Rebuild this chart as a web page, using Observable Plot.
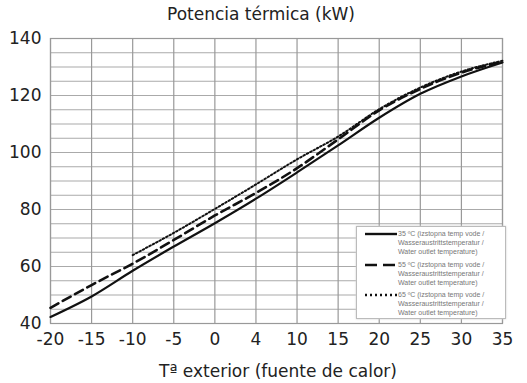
<!DOCTYPE html>
<html><head><meta charset="utf-8">
<script src="https://cdn.jsdelivr.net/npm/d3@7"></script>
<script src="https://cdn.jsdelivr.net/npm/@observablehq/plot@0.6"></script>
<style>
body{margin:0;background:#fff;font-family:"DejaVu Sans",sans-serif;}
#wrap{position:relative;width:527px;height:383px;overflow:hidden;background:#fff;}
#title{position:absolute;top:4px;left:0;width:522px;text-align:center;font-size:17px;line-height:20px;color:#222;}
#chart{position:absolute;top:30px;left:0;}
#xlabel{position:absolute;top:361px;left:0;width:556px;text-align:center;font-size:17px;line-height:20px;color:#222;}
#legend{position:absolute;left:356px;top:226px;width:148px;height:91px;border:1px solid #bbb;background:#fff;box-shadow:0 0 2px #ccc;}
.entry{position:absolute;left:0;width:148px;height:30px;}
.entry svg{position:absolute;left:7px;top:1px;}
.entry div{position:absolute;left:41px;top:1px;font-family:"Liberation Sans",Arial,sans-serif;font-size:7px;line-height:9px;color:#777;white-space:nowrap;}
</style></head>
<body>
<div id="wrap">
  <div id="title"></div>
  <div id="chart"></div>
  <div id="xlabel"></div>
  <div id="legend"></div>
</div>
<script>
const titleText = "Potencia térmica (kW)";
const xLabelText = "Tª exterior (fuente de calor)";

const xTicks = [-20, -15, -10, -5, 0, 5, 10, 15, 20, 25, 30, 35];
const xTickLabels = ["-20", "-15", "-10", "-5", "0", "4", "10", "15", "20", "25", "30", "35"];
const yTicks = [40, 60, 80, 100, 120, 140];

const temps = [-20, -15, -10, -5, 0, 5, 10, 15, 20, 25, 30, 35];
const p35 = [42.3, 49.5, 58.5, 67.0, 75.2, 83.8, 93.0, 102.5, 112.2, 120.6, 126.7, 131.6];
const p55 = [45.5, 53.5, 61.0, 69.3, 77.9, 85.8, 94.5, 104.6, 114.8, 122.3, 128.0, 131.9];
const temps65 = [-10, -5, 0, 5, 10, 15, 20, 25, 30, 35];
const p65 = [64.0, 71.8, 80.2, 88.8, 97.6, 105.6, 115.2, 122.8, 128.4, 132.2];

const seriesNames = ["35 ºC", "55 ºC", "65 ºC"];
const legendLines = ["(izstopna temp vode /", "Wasseraustrittstemperatur /", "Water outlet temperature)"];
const dashes = [null, "9,5", "1.6,2.2"];

document.getElementById("title").textContent = titleText;
document.getElementById("xlabel").textContent = xLabelText;

const d35 = temps.map((t, i) => ({t, p: p35[i]}));
const d55 = temps.map((t, i) => ({t, p: p55[i]}));
const d65 = temps65.map((t, i) => ({t, p: p65[i]}));

const yGrid = d3.range(40, 141, 5);

const chart = Plot.plot({
  width: 527, height: 320,
  marginLeft: 50, marginRight: 25, marginTop: 8, marginBottom: 27,
  x: {domain: [-20, 35]},
  y: {domain: [40, 140]},
  style: {fontFamily: "DejaVu Sans, sans-serif", fontSize: "17px", color: "#222", background: "white", overflow: "visible"},
  marks: [
    Plot.gridY(yGrid, {stroke: "#aaa", strokeOpacity: 1, strokeWidth: 1.2}),
    Plot.gridX(xTicks, {stroke: "#999", strokeOpacity: 1, strokeWidth: 1.2}),
    Plot.frame({stroke: "#999", strokeWidth: 1.2}),
    Plot.axisY(yTicks, {tickSize: 0, tickPadding: 9, label: null, fontSize: 17}),
    Plot.axisX(xTicks, {tickSize: 0, tickPadding: 9, label: null, fontSize: 17, tickFormat: (d, i) => xTickLabels[i]}),
    Plot.line(d55, {x: "t", y: "p", stroke: "#111", strokeWidth: 2.6, strokeDasharray: dashes[1], curve: "monotone-x"}),
    Plot.line(d65, {x: "t", y: "p", stroke: "#111", strokeWidth: 2, strokeDasharray: dashes[2], curve: "monotone-x"}),
    Plot.line(d35, {x: "t", y: "p", stroke: "#111", strokeWidth: 2.2, curve: "monotone-x"})
  ]
});
document.getElementById("chart").appendChild(chart);

const legend = document.getElementById("legend");
seriesNames.forEach((name, i) => {
  const e = document.createElement("div");
  e.className = "entry";
  e.style.top = (1 + i * 30.5) + "px";
  const dash = dashes[i] === null ? "" : (i === 1 ? "12,6" : "2,3");
  e.innerHTML = `<svg width="34" height="10"><line x1="1" x2="33" y1="5" y2="5" stroke="#111" stroke-width="2.4" ${dash ? `stroke-dasharray="${dash}"` : ""}/></svg>` +
    `<div>${name} ${legendLines[0]}<br>${legendLines[1]}<br>${legendLines[2]}</div>`;
  legend.appendChild(e);
});
</script>
</body></html>
